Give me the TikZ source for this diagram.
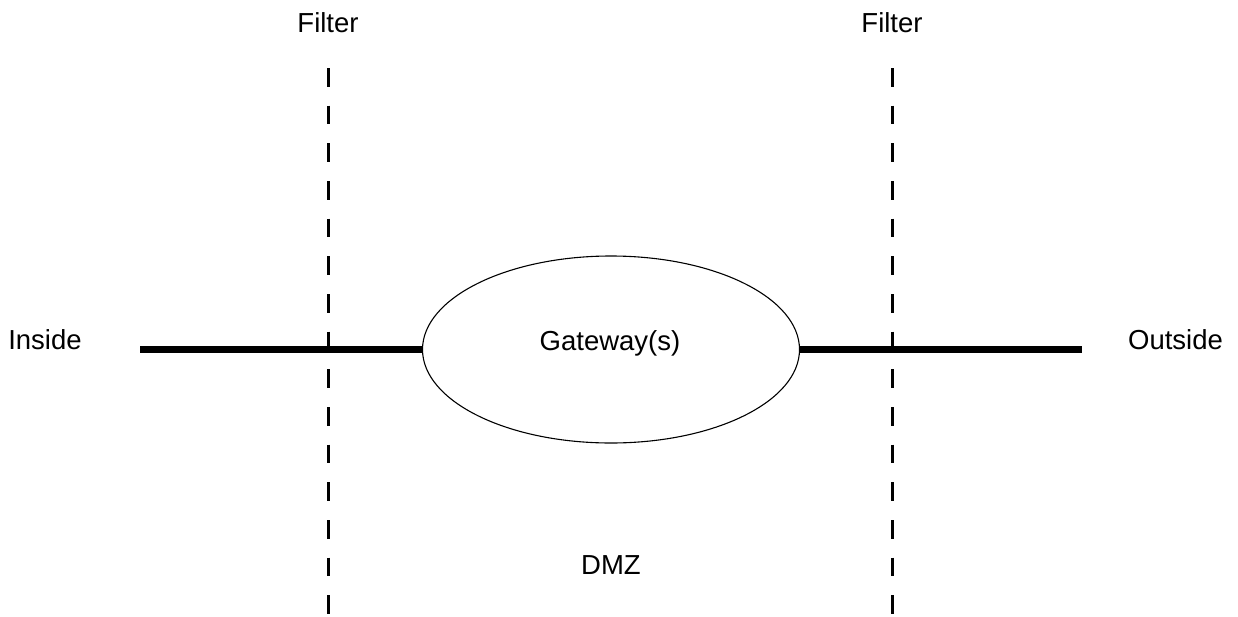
\documentclass[tikz,border=0pt]{standalone}
\usepackage{fontspec}
\setmainfont{Liberation Sans}
\usetikzlibrary{shapes.geometric}
\begin{document}
\begin{tikzpicture}[x=1pt,y=-1pt,
  lbl/.style={font=\fontsize{27.5}{33}\selectfont, inner sep=0pt, anchor=base},
  wire/.style={line width=7pt},
  filterline/.style={line width=2.4pt, dash pattern=on 18.5pt off 19.17pt},
  gwshape/.style={draw, ellipse, line width=1.1pt, minimum width=377pt, minimum height=187pt, inner sep=0pt}]
\useasboundingbox (0,0) rectangle (1238,616);
% labels
\node[lbl] (filterL) at (328,32) {Filter};
\node[lbl] (filterR) at (892,32) {Filter};
\node[lbl] (inside) at (45,349) {Inside};
\node[lbl] (outside) at (1175.5,349) {Outside};
\node[lbl] (dmz) at (611,574) {DMZ};
% gateway
\node[gwshape] (gw) at (611,349.5) {};
\node[lbl] (gwlabel) at (610,350) {Gateway(s)};
% filter lines
\coordinate (fLtop) at (328.5,68);
\coordinate (fLbot) at (328.5,616);
\coordinate (fRtop) at (892.5,68);
\coordinate (fRbot) at (892.5,616);
\draw[filterline] (fLtop) -- (fLbot);
\draw[filterline] (fRtop) -- (fRbot);
% wires
\coordinate (inEnd) at (140,349.5);
\coordinate (outEnd) at (1082,349.5);
\draw[wire] (inEnd) -- (gw.west);
\draw[wire] (gw.east) -- (outEnd);
\end{tikzpicture}
\end{document}
